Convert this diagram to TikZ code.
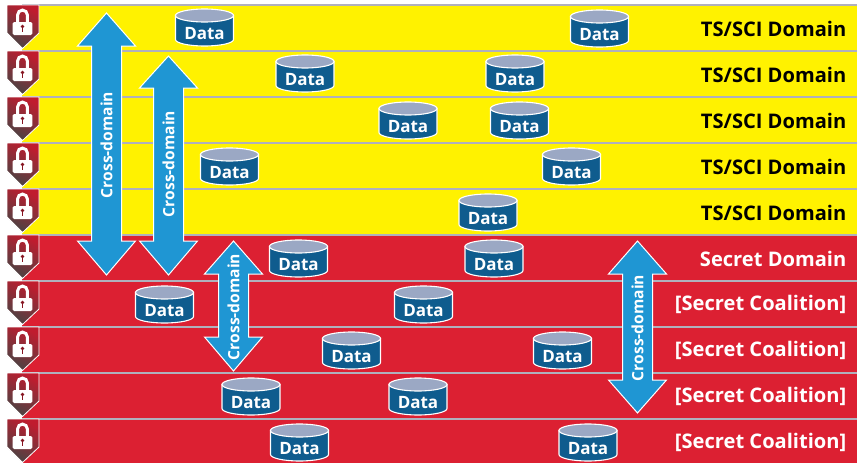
\documentclass[tikz,border=0pt]{standalone}
\usepackage{fontspec}
\setmainfont{Open Sans}
\usetikzlibrary{calc}
\definecolor{bandY}{HTML}{FFF200}
\definecolor{bandR}{HTML}{DC2032}
\definecolor{sep}{HTML}{B0B0BC}
\definecolor{arrowB}{HTML}{1F96D3}
\definecolor{cylB}{HTML}{0F5C8E}
\definecolor{cylT}{HTML}{9BA8C4}
\definecolor{shieldA}{HTML}{C01C2E}
\definecolor{shieldB}{HTML}{4A4444}
\tikzset{
  x=1pt,y=-1pt,
  domainlabel/.style={anchor=east,font=\fontsize{20.1}{22}\selectfont\bfseries,inner sep=0pt},
  datalabel/.style={text=white,font=\fontsize{17}{20}\selectfont\bfseries,inner sep=0pt},
  crosslabel/.style={text=white,font=\fontsize{15.6}{18}\selectfont\bfseries,inner sep=0pt,rotate=90},
  arrowshape/.style={fill=arrowB,draw=white,line width=1pt,line join=miter},
  cylshape/.style={draw=white,line width=1.1pt,fill=cylB},
  cyltop/.style={draw=white,line width=1.1pt,fill=cylT},
}
\newcommand{\band}[3]{%
  \fill[#3] (22,#1) rectangle (857,#2);
  \draw[sep,line width=1.3pt] (22,#1) -- (857,#1);
}
\newcommand{\shieldlock}[2]{% name, top y
  \begin{scope}[shift={(0,#2)}]
    \path[top color=shieldA,bottom color=shieldB,shading angle=-30,draw=white,line width=0.8pt]
      (7,0) -- (39,0) -- (39,28) -- (22.5,43.5) -- (7,28) -- cycle;
    \draw[white,line width=3pt] (17.6,18) -- (17.6,10) arc[start angle=180,end angle=360,x radius=4.9,y radius=4.9] -- (27.4,18);
    \fill[white,rounded corners=1.5pt] (12.7,17) rectangle (32.3,30);
    \fill[shieldA!70!black] (22.5,21.5) circle[radius=1.9];
    \fill[shieldA!70!black] (21.6,22) rectangle (23.4,27);
    \coordinate (#1) at (22.5,24);
  \end{scope}
}
\newcommand{\datacyl}[3]{% name, cx, label cy
  \begin{scope}[shift={(#2,#3)}]
    \path[cylshape] (-29,-16.5) -- (-29,7.5) arc[start angle=180,end angle=0,x radius=29,y radius=6.5] -- (29,-16.5) -- cycle;
    \path[cyltop] (0,-16.5) ellipse[x radius=29,y radius=6.5];
    \node[datalabel] (#1) at (0,1.5) {Data};
  \end{scope}
}
\newcommand{\crossarrow}[6]{% name, cx, top tip, top head base, bottom head base, bottom tip
  \path[arrowshape] (#2,#3) -- (#2+29,#4) -- (#2+15,#4) -- (#2+15,#5) -- (#2+29,#5) -- (#2,#6)
    -- (#2-29,#5) -- (#2-15,#5) -- (#2-15,#4) -- (#2-29,#4) -- cycle;
}
\begin{document}
\begin{tikzpicture}
\useasboundingbox (0,0) rectangle (857,463);
\fill[white] (0,0) rectangle (857,463);
\band{5}{51}{bandY}
\band{51}{97}{bandY}
\band{97}{143}{bandY}
\band{143}{189}{bandY}
\band{189}{235}{bandY}
\band{235}{281}{bandR}
\band{281}{327}{bandR}
\band{327}{373}{bandR}
\band{373}{419}{bandR}
\band{419}{463}{bandR}
\foreach \n/\y in {a/5,b/51,c/97,d/143,e/189,f/235,g/281,h/327,i/373,j/419}{\shieldlock{s\n}{\y}}
\datacyl{d1}{204.5}{32}
\datacyl{d2}{599.5}{33}
\datacyl{d3}{305}{78}
\datacyl{d4}{515}{78}
\datacyl{d5}{408}{125}
\datacyl{d6}{519.5}{125}
\datacyl{d7}{229.5}{171}
\datacyl{d8}{571.5}{171}
\datacyl{d9}{488}{217}
\datacyl{d10}{298.5}{263}
\datacyl{d11}{494}{263}
\datacyl{d12}{164.5}{309}
\datacyl{d13}{423.5}{309}
\datacyl{d14}{351.5}{355}
\datacyl{d15}{562.5}{355}
\datacyl{d16}{251}{401}
\datacyl{d17}{418}{401}
\datacyl{d18}{299.5}{447}
\datacyl{d19}{588}{447}
\crossarrow{x1}{106.5}{13}{46}{241}{275}
\crossarrow{x2}{168.5}{56}{88}{241}{275}
\crossarrow{x3}{233.5}{241}{274}{337}{371}
\crossarrow{x4}{637.5}{241}{274}{380}{413}
\node[crosslabel] (lx1) at (106.5,145) {Cross-domain};
\node[crosslabel] (lx2) at (168.5,164) {Cross-domain};
\node[crosslabel] (lx3) at (233.5,307) {Cross-domain};
\node[crosslabel] (lx4) at (637.5,328) {Cross-domain};
\foreach \n/\y in {a/29,b/75,c/121,d/166.5,e/212.5}{\node[domainlabel,text=black] (t\n) at (846.5,\y) {TS/SCI Domain};}
\node[domainlabel,text=white] (tf) at (846.5,258.5) {Secret Domain};
\foreach \n/\y in {g/304.5,h/350.5,i/396.5,j/442.5}{\node[domainlabel,text=white] (t\n) at (846.5,\y) {[Secret Coalition]};}
\end{tikzpicture}
\end{document}
